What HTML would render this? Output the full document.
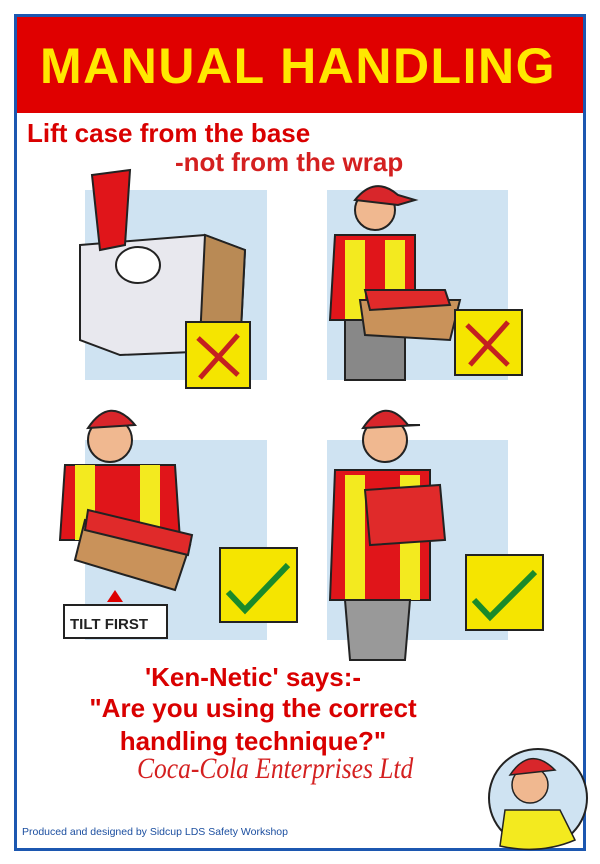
<!DOCTYPE html>
<html><head><style>
body{margin:0;width:600px;height:864px;background:#fff;position:relative;overflow:hidden;font-family:"Liberation Sans",Arial,sans-serif}
.a{position:absolute}
.t{color:#d90000;font-weight:bold;white-space:nowrap}
</style></head><body>
<div class="a" style="left:14px;top:14px;width:566px;height:831px;border:3px solid #1c57b0"></div>
<div class="a" style="left:17px;top:17px;width:566px;height:96px;background:#e00000"></div>
<div class="a t" style="left:40px;top:37px;font-size:50px;color:#ffe800;letter-spacing:1.5px">MANUAL HANDLING</div>
<div class="a t" style="left:27px;top:118px;font-size:26px">Lift case from the base</div>
<div class="a t" style="left:175px;top:147px;font-size:26px;color:#d42020">-not from the wrap</div>
<svg class="a" style="left:0;top:0" width="600" height="864">
<rect x="85" y="190" width="182" height="190" fill="#cfe3f2"/>
<rect x="327" y="190" width="181" height="190" fill="#cfe3f2"/>
<rect x="85" y="440" width="182" height="200" fill="#cfe3f2"/>
<rect x="327" y="440" width="181" height="200" fill="#cfe3f2"/>
<polygon points="80,245 205,235 245,250 240,350 120,355 80,340" fill="#e8e8ee" stroke="#222" stroke-width="2"/>
<polygon points="205,235 245,250 240,350 200,340" fill="#b98a55" stroke="#222" stroke-width="2"/>
<polygon points="92,175 130,170 125,245 100,250" fill="#e0151a" stroke="#222" stroke-width="2"/>
<ellipse cx="138" cy="265" rx="22" ry="18" fill="#fff" stroke="#222" stroke-width="2"/>
<circle cx="375" cy="210" r="20" fill="#f0b890" stroke="#222" stroke-width="2"/>
<path d="M355 200 Q375 175 398 195 L415 200 L398 205 Z" fill="#d8262b" stroke="#222" stroke-width="2"/>
<polygon points="335,235 415,235 415,320 330,320" fill="#e0151a" stroke="#222" stroke-width="2"/>
<polygon points="345,240 365,240 365,320 345,320" fill="#f3ea1f"/>
<polygon points="385,240 405,240 405,320 385,320" fill="#f3ea1f"/>
<polygon points="345,320 405,320 405,380 345,380" fill="#888" stroke="#222" stroke-width="2"/>
<polygon points="360,300 460,300 450,340 365,335" fill="#c9925a" stroke="#222" stroke-width="2"/>
<polygon points="365,290 445,290 450,305 370,310" fill="#e02a2a" stroke="#222" stroke-width="2"/>
<circle cx="110" cy="440" r="22" fill="#f0b890" stroke="#222" stroke-width="2"/>
<path d="M88 428 Q110 395 135 425 Z" fill="#d8262b" stroke="#222" stroke-width="2"/>
<polygon points="65,465 175,465 180,540 60,540" fill="#e0151a" stroke="#222" stroke-width="2"/>
<polygon points="75,465 95,465 95,540 75,540" fill="#f3ea1f"/>
<polygon points="140,465 160,465 160,540 140,540" fill="#f3ea1f"/>
<polygon points="85,520 190,545 175,590 75,560" fill="#c9925a" stroke="#222" stroke-width="2"/>
<polygon points="88,510 192,535 188,555 85,530" fill="#e02a2a" stroke="#222" stroke-width="2"/>
<rect x="64" y="605" width="103" height="33" fill="#fff" stroke="#222" stroke-width="2"/>
<polygon points="107,602 115,590 123,602" fill="#d00"/>
<text x="70" y="629" font-family="Liberation Sans" font-size="15" font-weight="bold" fill="#222">TILT FIRST</text>
<circle cx="385" cy="440" r="22" fill="#f0b890" stroke="#222" stroke-width="2"/>
<path d="M363 428 Q385 395 408 425 L420 425 Z" fill="#d8262b" stroke="#222" stroke-width="2"/>
<polygon points="335,470 430,470 430,600 330,600" fill="#e0151a" stroke="#222" stroke-width="2"/>
<polygon points="345,475 365,475 365,600 345,600" fill="#f3ea1f"/>
<polygon points="400,475 420,475 420,600 400,600" fill="#f3ea1f"/>
<polygon points="345,600 410,600 405,660 350,660" fill="#999" stroke="#222" stroke-width="2"/>
<polygon points="365,490 440,485 445,540 370,545" fill="#e02a2a" stroke="#222" stroke-width="2"/>
<rect x="186" y="322" width="64" height="66" fill="#f5e500" stroke="#222" stroke-width="2"/>
<path d="M198 338 L238 375 M238 335 L200 378" stroke="#c42020" stroke-width="5"/>
<rect x="455" y="310" width="67" height="65" fill="#f5e500" stroke="#222" stroke-width="2"/>
<path d="M467 325 L508 365 M508 322 L470 365" stroke="#c42020" stroke-width="5"/>
<rect x="220" y="548" width="77" height="74" fill="#f5e500" stroke="#222" stroke-width="2"/>
<path d="M228 592 L245 610 L288 565" stroke="#1a8a2a" stroke-width="6" fill="none"/>
<rect x="466" y="555" width="77" height="75" fill="#f5e500" stroke="#222" stroke-width="2"/>
<path d="M474 600 L490 617 L535 572" stroke="#1a8a2a" stroke-width="6" fill="none"/>
<circle cx="538" cy="798" r="49" fill="#cfe3f2" stroke="#222" stroke-width="2"/>
<circle cx="530" cy="785" r="18" fill="#f0b890" stroke="#222" stroke-width="1.5"/>
<path d="M510 775 Q530 745 555 770 Z" fill="#d8262b" stroke="#222" stroke-width="1.5"/>
<path d="M500 846 L505 810 L560 810 L575 840 Q540 855 500 846Z" fill="#f3ea1f" stroke="#222" stroke-width="1.5"/>
</svg>
<div class="a t" style="left:0;width:506px;text-align:center;top:662px;font-size:26px">'Ken-Netic' says:-</div>
<div class="a t" style="left:0;width:506px;text-align:center;top:693px;font-size:26px">"Are you using the correct</div>
<div class="a t" style="left:0;width:506px;text-align:center;top:726px;font-size:26px">handling technique?"</div>
<div class="a" style="left:137px;top:752px;font-family:'Liberation Serif',serif;font-style:italic;font-size:30px;color:#d42020;white-space:nowrap;transform:scaleX(0.85);transform-origin:left">Coca-Cola Enterprises Ltd</div>
<div class="a" style="left:22px;top:826px;font-size:10.5px;color:#1c4fa0;white-space:nowrap">Produced and designed by Sidcup LDS Safety Workshop</div>
</body></html>
